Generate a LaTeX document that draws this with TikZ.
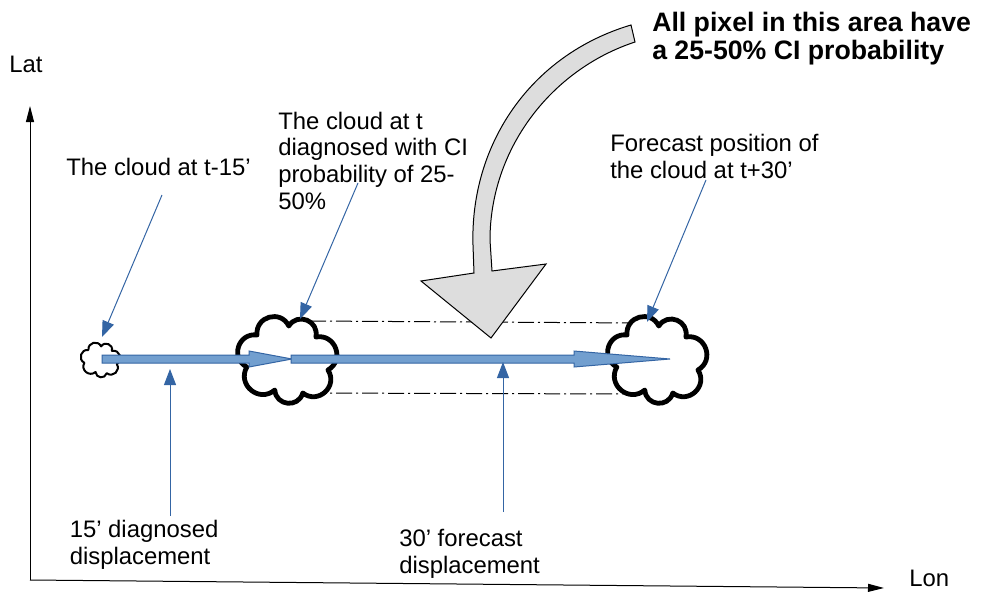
\documentclass[tikz,border=0pt]{standalone}
\usepackage{fontspec}
\setmainfont{Liberation Sans}
\usetikzlibrary{arrows.meta}
\definecolor{linkblue}{HTML}{3465A4}
\definecolor{shaftblue}{HTML}{729FCF}
\definecolor{curvegray}{HTML}{DDDDDD}

\begin{document}
\begin{tikzpicture}[
    x=0.75pt, y=-0.75pt,
    label/.style={anchor=base west, align=left, inner sep=0pt, font=\fontsize{17.9}{19.9}\selectfont},
    boldlabel/.style={anchor=base west, align=left, inner sep=0pt, font=\fontsize{20}{20.3}\selectfont\bfseries},
    link/.style={-{Triangle[length=12pt, width=9pt]}, linkblue, line width=0.75pt},
    axis/.style={-{Triangle[length=12pt, width=6pt]}, black, line width=0.75pt},
    rim/.style={black, line width=0.75pt, dash pattern=on 12pt off 3pt on 1.5pt off 3pt},
    shaft/.style={draw=linkblue, fill=shaftblue, line width=0.75pt, line join=miter}
]
    \useasboundingbox (0,0) rectangle (990,596);

    \newcommand{\drawcloud}[4]{
        \begin{scope}[shift={(#1, #2)}, x=#3*0.7pt, y=-#3*0.75pt]
            \draw[black, fill=white, line width=#4pt, line join=round, looseness=1.45]
                (-42,7) to[bend left=80] (-31,-25)
                to[bend left=80] (3,-34)
                to[bend left=80] (32,-23)
                to[bend left=80] (45,10)
                to[bend left=80] (18,33)
                to[bend left=80] (-12,30)
                to[bend left=80] (-42,7) -- cycle;
        \end{scope}
    }

    % --- Rim lines between the clouds ---
    \coordinate (rimTopA) at (310,321);
    \coordinate (rimTopB) at (640,323);
    \coordinate (rimLowA) at (310,393);
    \coordinate (rimLowB) at (625,394);
    \draw[rim] (rimTopA) -- (rimTopB);
    \draw[rim] (rimLowA) -- (rimLowB);

    % --- Clouds ---
    \drawcloud{100}{360}{0.4}{1.5}
    \drawcloud{286}{360}{1}{3.6}
    \drawcloud{656}{360}{1}{3.6}

    % --- Displacement arrows ---
    \draw[shaft] (102,355) -- (249,355) -- (249,351) -- (292,359) -- (249,367)
        -- (249,363) -- (102,363) -- cycle;
    \draw[shaft] (291,355) -- (574,355) -- (574,351) -- (670,359) -- (574,367)
        -- (574,363) -- (291,363) -- cycle;

    % --- Axes ---
    \coordinate (origin) at (30,580);
    \coordinate (latEnd) at (30,106);
    \coordinate (lonEnd) at (884,588);
    \draw[axis] (origin) -- (latEnd);
    \draw[axis] (origin) -- (lonEnd);
    \node[label] (lat) at (9,72) {Lat};
    \node[label] (lon) at (909,586) {Lon};

    % --- Gray curved arrow ---
    \draw[fill=curvegray, draw=black, line width=0.75pt, line join=miter]
        (631,25) .. controls (530,55) and (470,145) .. (473,245) -- (474,273)
        -- (421,281) -- (491,338) -- (546,264) -- (492,271) -- (490,240)
        .. controls (490,150) and (550,70) .. (635,42) -- cycle;

    % --- Labels ---
    \node[boldlabel] (areaText) at (652,59) {All pixel in this area have\\a 25-50\% CI probability};
    \node[label] (pastText) at (66,175) {The cloud at t-15’};
    \node[label] (nowText) at (278,209) {The cloud at t\\diagnosed with CI\\probability of 25-\\50\%};
    \node[label] (futureText) at (610,178) {Forecast position of\\the cloud at t+30’};
    \node[label] (pastMove) at (69.5,564) {15’ diagnosed\\displacement};
    \node[label] (futureMove) at (399,573) {30’ forecast\\displacement};

    % --- Thin arrows ---
    \coordinate (pastFrom) at (162,195);
    \coordinate (pastTo) at (102,337);
    \coordinate (nowFrom) at (358,183);
    \coordinate (nowTo) at (300,319);
    \coordinate (futureFrom) at (706,180);
    \coordinate (futureTo) at (647,322);
    \coordinate (pastMoveFrom) at (170,516);
    \coordinate (pastMoveTo) at (170,369);
    \coordinate (futureMoveFrom) at (503,512);
    \coordinate (futureMoveTo) at (503,362);
    \draw[link] (pastFrom) -- (pastTo);
    \draw[link] (nowFrom) -- (nowTo);
    \draw[link] (futureFrom) -- (futureTo);
    \draw[link] (pastMoveFrom) -- (pastMoveTo);
    \draw[link] (futureMoveFrom) -- (futureMoveTo);
\end{tikzpicture}
\end{document}
